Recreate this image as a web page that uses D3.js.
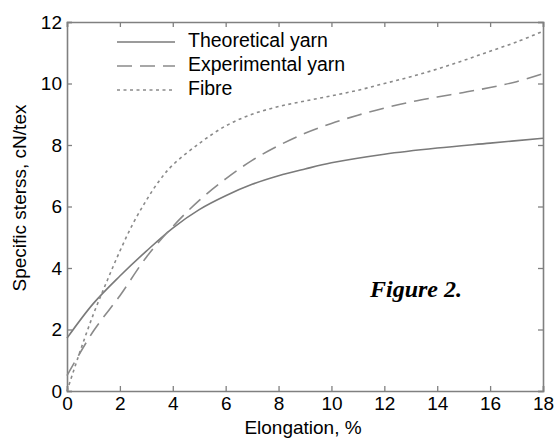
<!DOCTYPE html>
<html>
<head>
<meta charset="utf-8">
<script src="https://cdn.jsdelivr.net/npm/d3@7"></script>
<style>
  body { margin: 0; background: #fff; }
  text { font-family: Arial, "Liberation Sans", sans-serif; fill: #000; }
</style>
</head>
<body>
<div class="graph"></div>
<script>
// Data
const xTicks = [0, 2, 4, 6, 8, 10, 12, 14, 16, 18];
const yTicks = [0, 2, 4, 6, 8, 10, 12];

const theoreticalX = [0, 1, 2, 3, 4, 5, 6, 7, 8, 9, 10, 12, 14, 16, 18];
const theoreticalY = [1.72, 2.85, 3.74, 4.55, 5.3, 5.9, 6.35, 6.72, 7.0, 7.22, 7.42, 7.7, 7.9, 8.06, 8.22];

const experimentalX = [0, 1, 2, 3, 4, 5, 6, 7, 8, 9, 10, 11, 12, 13, 14, 15, 16, 17, 18];
const experimentalY = [0.5, 1.95, 3.1, 4.35, 5.35, 6.2, 6.9, 7.5, 7.98, 8.38, 8.7, 8.97, 9.2, 9.4, 9.56, 9.71, 9.87, 10.06, 10.32];

const fibreX = [0, 0.5, 1, 1.5, 2, 2.5, 3, 3.5, 4, 5, 6, 7, 8, 9, 10, 11, 12, 13, 14, 15, 16, 17, 18];
const fibreY = [0, 1.3, 2.5, 3.55, 4.55, 5.45, 6.2, 6.85, 7.35, 8.05, 8.62, 9.0, 9.25, 9.43, 9.6, 9.78, 10.0, 10.22, 10.47, 10.75, 11.05, 11.35, 11.7];

const seriesNames = ['Theoretical yarn', 'Experimental yarn', 'Fibre'];

const width = 554;
const height = 438;
const margin = { top: 22, right: 11, bottom: 47, left: 67 };
const grey = '#808080';

const svg = d3.select('.graph')
  .append('svg')
  .attr('width', width)
  .attr('height', height);

const x = d3.scaleLinear().domain([0, 18]).range([margin.left, width - margin.right]);
const y = d3.scaleLinear().domain([0, 12]).range([height - margin.bottom, margin.top]);

// Axes with inward ticks on all four sides
const axes = [
  { axis: d3.axisBottom(x).tickValues(xTicks).tickSize(-5).tickPadding(6), at: `translate(0,${y(0)})`, labels: true },
  { axis: d3.axisTop(x).tickValues(xTicks).tickSize(-5), at: `translate(0,${y(12)})`, labels: false },
  { axis: d3.axisLeft(y).tickValues(yTicks).tickSize(-5).tickPadding(5), at: `translate(${x(0)},0)`, labels: true },
  { axis: d3.axisRight(y).tickValues(yTicks).tickSize(-5), at: `translate(${x(18)},0)`, labels: false }
];

axes.forEach(a => {
  const g = svg.append('g').attr('transform', a.at).call(a.axis);
  g.select('.domain').attr('stroke', grey).attr('stroke-width', 1.6);
  g.selectAll('.tick line').attr('stroke', grey).attr('stroke-width', 1.3);
  g.selectAll('.tick text')
    .attr('font-size', '19px')
    .attr('font-family', 'Arial, "Liberation Sans", sans-serif')
    .attr('fill', '#000');
  if (!a.labels) g.selectAll('.tick text').remove();
});

// Lines
const line = d3.line()
  .x(d => x(d[0]))
  .y(d => y(d[1]))
  .curve(d3.curveCatmullRom.alpha(0.5));

const series = [
  { xs: theoreticalX, ys: theoreticalY, dash: null, color: '#7a7a7a' },
  { xs: experimentalX, ys: experimentalY, dash: '15,8', color: '#8a8a8a' },
  { xs: fibreX, ys: fibreY, dash: '3,3.5', color: '#8a8a8a' }
];

series.forEach(s => {
  svg.append('path')
    .datum(s.xs.map((v, i) => [v, s.ys[i]]))
    .attr('fill', 'none')
    .attr('stroke', s.color)
    .attr('stroke-width', 1.6)
    .attr('stroke-dasharray', s.dash)
    .attr('d', line);
});

// Legend
const legend = svg.append('g').attr('transform', 'translate(117,42)');
series.forEach((s, i) => {
  legend.append('line')
    .attr('x1', 0).attr('x2', 58)
    .attr('y1', i * 24).attr('y2', i * 24)
    .attr('stroke', s.color)
    .attr('stroke-width', 1.6)
    .attr('stroke-dasharray', s.dash);
  legend.append('text')
    .attr('x', 71)
    .attr('y', i * 24 + 5)
    .attr('font-size', '19.5px')
    .text(seriesNames[i]);
});

// Axis titles
svg.append('text')
  .attr('x', 303)
  .attr('y', 434)
  .attr('text-anchor', 'middle')
  .attr('font-size', '19px')
  .text('Elongation, %');

svg.append('text')
  .attr('transform', 'translate(26,198) rotate(-90)')
  .attr('text-anchor', 'middle')
  .attr('font-size', '19px')
  .text('Specific sterss, cN/tex');

svg.append('text')
  .attr('x', 416)
  .attr('y', 297)
  .attr('text-anchor', 'middle')
  .attr('font-size', '24px')
  .attr('font-weight', 'bold')
  .attr('font-style', 'italic')
  .style('font-family', '"Liberation Serif", "Times New Roman", serif')
  .text('Figure 2.');
</script>
</body>
</html>
